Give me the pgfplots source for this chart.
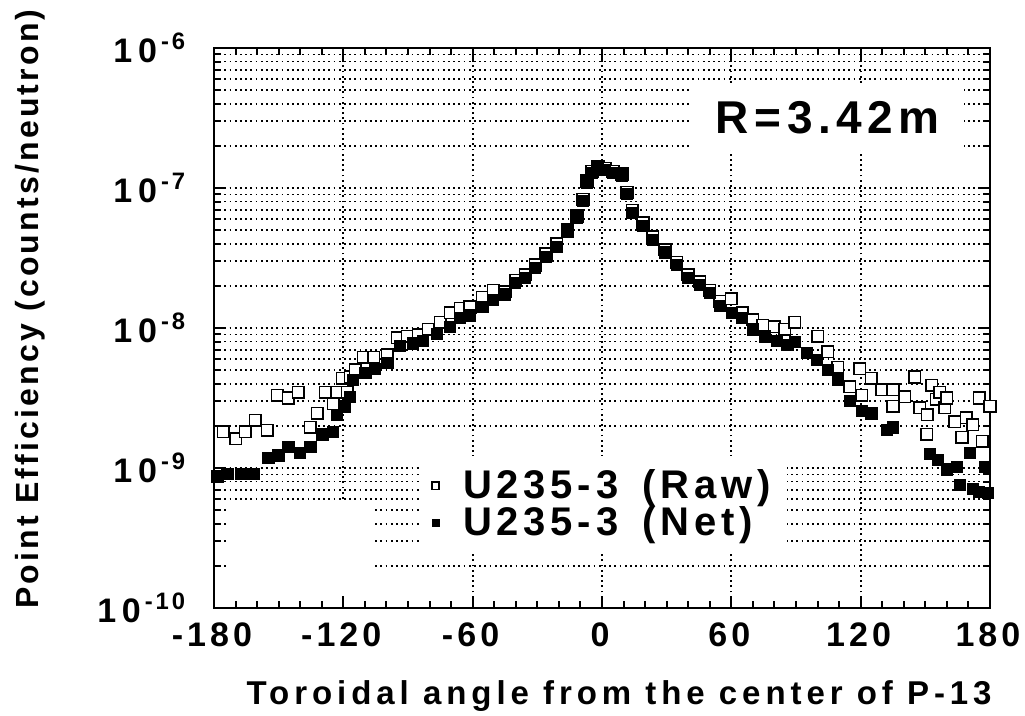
\documentclass[border=0pt]{standalone}
\usepackage{fontspec}
\setmainfont{Liberation Sans}[LetterSpace=12]
\usepackage{pgfplots}
\usepackage{pgfplotstable}
\pgfplotsset{compat=1.18}

% angle (deg) and log10 of point efficiency
\pgfplotstableread{
x lg
-175.6 -8.74
-170.0 -8.79
-165.4 -8.74
-160.8 -8.66
-155.2 -8.73
-150.6 -8.48
-145.5 -8.50
-140.9 -8.46
-135.3 -8.71
-132.0 -8.61
-128.4 -8.46
-124.7 -8.54
-122.8 -8.46
-120.5 -8.36
-118.2 -8.46
-116.8 -8.35
-114.5 -8.30
-110.7 -8.21
-106.0 -8.21
-99.6 -8.19
-95.0 -8.07
-90.4 -8.06
-85.3 -8.05
-80.6 -8.01
-75.1 -7.96
-70.4 -7.89
-65.8 -7.86
-61.2 -7.85
-55.6 -7.78
-50.5 -7.73
-45.0 -7.74
-40.0 -7.66
-35.5 -7.62
-31.0 -7.55
-26.0 -7.47
-21.0 -7.40
-16.0 -7.30
-11.6 -7.20
-8.8 -7.08
-7.0 -6.95
-4.6 -6.88
-1.9 -6.85
1.4 -6.86
5.1 -6.88
9.3 -6.90
11.6 -7.03
14.0 -7.16
19.0 -7.25
23.6 -7.35
29.2 -7.44
34.7 -7.53
39.9 -7.62
45.4 -7.67
50.0 -7.73
54.7 -7.81
60.0 -7.79
65.0 -7.89
70.0 -7.94
74.6 -7.98
80.0 -7.99
84.8 -8.01
89.4 -7.96
100.0 -8.06
104.7 -8.17
109.4 -8.28
115.0 -8.42
119.6 -8.29
120.5 -8.48
125.0 -8.36
129.7 -8.44
135.0 -8.44
135.0 -8.56
140.4 -8.49
145.0 -8.35
147.4 -8.57
150.6 -8.76
151.0 -8.62
153.0 -8.41
155.0 -8.51
156.6 -8.46
159.0 -8.57
160.0 -8.50
163.6 -8.67
167.0 -8.78
169.0 -8.64
172.0 -8.69
175.0 -8.50
176.5 -8.81
180.0 -8.56
}\rawdata

\pgfplotstableread{
x lg
-178.4 -9.06
-173.8 -9.04
-167.7 -9.04
-161.7 -9.04
-154.8 -8.93
-150.1 -8.91
-145.5 -8.85
-140.0 -8.89
-135.3 -8.85
-129.7 -8.76
-124.7 -8.74
-122.8 -8.62
-119.1 -8.56
-116.8 -8.49
-115.4 -8.37
-109.8 -8.32
-105.2 -8.29
-99.6 -8.25
-93.6 -8.13
-87.6 -8.11
-83.0 -8.09
-76.5 -8.04
-70.4 -7.99
-65.8 -7.93
-61.2 -7.91
-55.1 -7.85
-50.5 -7.80
-45.0 -7.76
-40.3 -7.68
-35.7 -7.64
-31.0 -7.57
-26.0 -7.49
-20.9 -7.42
-15.8 -7.31
-11.6 -7.21
-8.8 -7.09
-7.0 -6.96
-4.6 -6.89
-1.9 -6.86
1.4 -6.87
5.1 -6.89
9.3 -6.91
11.6 -7.04
13.9 -7.18
19.0 -7.27
23.6 -7.37
29.2 -7.46
34.7 -7.55
39.9 -7.64
45.4 -7.69
50.0 -7.75
54.7 -7.84
60.2 -7.89
64.9 -7.93
70.0 -8.01
75.5 -8.06
81.0 -8.09
86.0 -8.12
89.4 -8.10
95.0 -8.18
99.6 -8.23
104.7 -8.30
109.4 -8.37
115.0 -8.52
120.5 -8.59
125.0 -8.61
132.0 -8.73
135.0 -8.71
152.0 -8.90
155.7 -8.94
160.0 -9.01
164.5 -8.99
166.0 -9.12
170.5 -8.89
172.0 -9.15
175.0 -9.17
177.5 -8.99
179.0 -9.18
}\netdata

\begin{document}
\begin{tikzpicture}
\path[use as bounding box] (-107pt,-54pt) rectangle (405.5pt,304pt);
\begin{axis}[
    scale only axis,
    width=388pt, height=280pt,
    xmin=-180, xmax=180,
    ymode=log, ymin=1e-10, ymax=1e-6,
    font=\bfseries\fontsize{17}{20}\selectfont,
    xtick={-180,-120,...,180},
    xticklabels={\textbf{-180},\textbf{-120},\textbf{-60},\textbf{0},\textbf{60},\textbf{120},\textbf{180}},
    minor x tick num=5,
    ytick={1e-10,1e-9,1e-8,1e-7,1e-6},
    yticklabels={
      {\textbf{1\,0}\textsuperscript{\textbf{-10}}},
      {\textbf{1\,0}\textsuperscript{\textbf{-9}}},
      {\textbf{1\,0}\textsuperscript{\textbf{-8}}},
      {\textbf{1\,0}\textsuperscript{\textbf{-7}}},
      {\textbf{1\,0}\textsuperscript{\textbf{-6}}}},
    tick align=inside, tick pos=both,
    major tick length=6pt, minor tick length=3.5pt,
    every tick/.style={black, line width=1pt},
    axis line style={line width=1.3pt},
    xmajorgrids, ymajorgrids, yminorgrids,
    major grid style={dash pattern=on 0.9pt off 1.7pt, line width=0.9pt, black},
    minor grid style={dash pattern=on 0.9pt off 1.7pt, line width=0.9pt, black},
    xticklabel style={yshift=-4pt},
    yticklabel style={xshift=-9pt},
    xlabel={\fontsize{16.5}{18}\selectfont\addfontfeature{LetterSpace=15}Toroidal angle from the center of P-13},
    ylabel={\fontsize{16}{18}\selectfont\addfontfeature{LetterSpace=10}Point Efficiency (counts/neutron)},
    every axis x label/.style={at={(axis description cs:0.522,-0.157)}, anchor=center},
    every axis y label/.style={at={(axis description cs:-0.237,0.534)}, rotate=90, anchor=center},
    legend style={at={(axis description cs:0.265,0.098)}, anchor=south west,
      draw=none, fill=white, inner xsep=6pt, inner ysep=5pt,
      font=\bfseries\fontsize{20}{21}\selectfont, row sep=-1.5pt},
    legend cell align=left,
    legend image code/.code={\draw[#1, mark size=1.8pt] plot coordinates {(0.25cm,0cm)};},
]
\fill[white] ([xshift=7pt,yshift=7pt]axis description cs:0,0) rectangle (axis description cs:0.207,0.193);
\addplot[only marks, mark=square*, mark size=2.9pt,
  mark options={fill=white, draw=black, line width=0.8pt}]
  table[x=x, y expr=10^(\thisrow{lg})] {\rawdata};
\addlegendentry{\hspace{10pt}U235-3\hspace{12pt}(Raw)\hspace{4pt}}
\addplot[only marks, mark=square*, mark size=2.8pt,
  mark options={fill=black, draw=black}]
  table[x=x, y expr=10^(\thisrow{lg})] {\netdata};
\addlegendentry{\hspace{10pt}U235-3\hspace{12pt}(Net)}
\node[fill=white, inner xsep=12pt, inner ysep=8pt,
  font=\bfseries\fontsize{23}{26}\selectfont]
  at (axis description cs:0.791,0.875) {R=3.42m};
\end{axis}
\end{tikzpicture}
\end{document}
